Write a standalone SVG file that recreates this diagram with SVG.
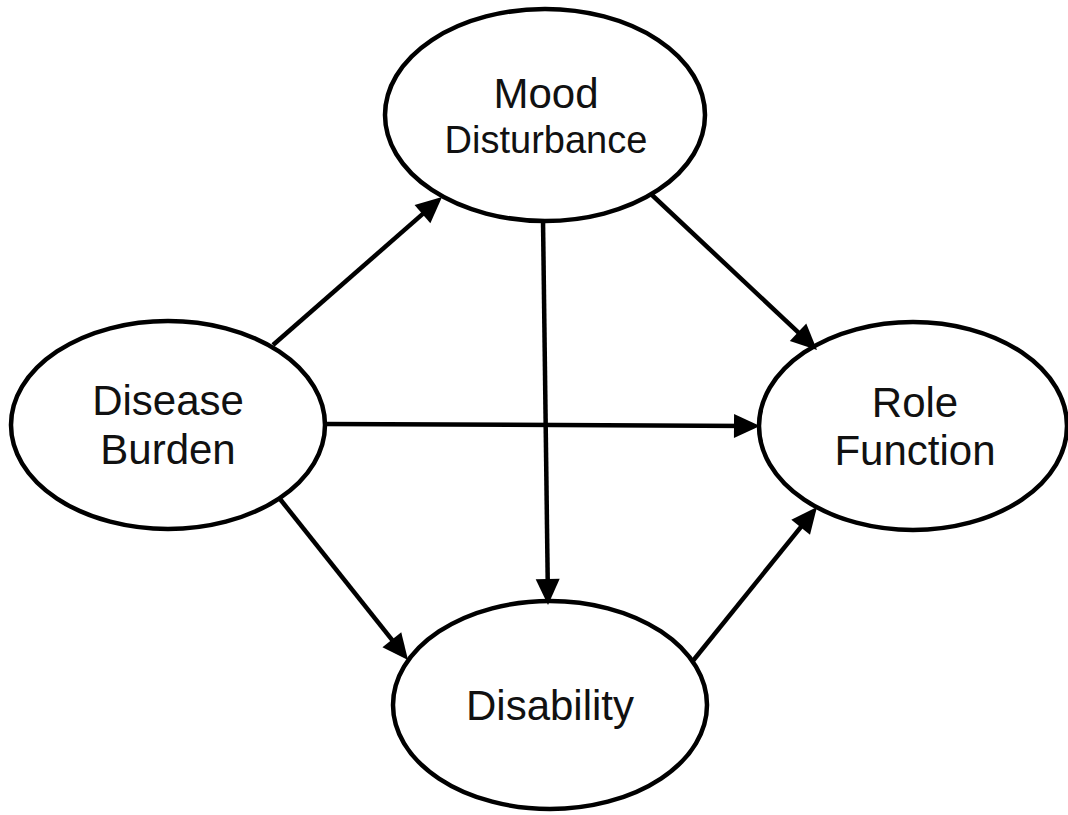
<svg xmlns="http://www.w3.org/2000/svg" width="1068" height="815" viewBox="0 0 1068 815">
<style>
.node{fill:#fff;stroke:#000;stroke-width:4.5}
.lbl{font-family:"Liberation Sans",Arial,sans-serif;font-size:42px;fill:#111;text-anchor:middle}
.edge{stroke:#000;stroke-width:4.5;fill:none;marker-end:url(#ah)}
</style>
<defs>
<marker id="ah" markerUnits="userSpaceOnUse" markerWidth="28" markerHeight="26" refX="16" refY="12" orient="auto" overflow="visible">
<path d="M0,0 L26,12 L0,24 z" fill="#000"/>
</marker>
</defs>
<rect width="1068" height="815" fill="#fff"/>
<g id="mood">
<ellipse class="node" cx="545" cy="115" rx="160" ry="106"/>
<text class="lbl" x="546" y="108">Mood</text>
<text class="lbl" x="546" y="153" style="font-size:38px">Disturbance</text>
</g>
<g id="disease">
<ellipse class="node" cx="168" cy="425" rx="157" ry="104"/>
<text class="lbl" x="168" y="415">Disease</text>
<text class="lbl" x="168" y="464">Burden</text>
</g>
<g id="role">
<ellipse class="node" cx="913" cy="426" rx="154" ry="104"/>
<text class="lbl" x="915" y="417">Role</text>
<text class="lbl" x="915" y="465">Function</text>
</g>
<g id="disability">
<ellipse class="node" cx="550" cy="705" rx="157" ry="104"/>
<text class="lbl" x="550" y="720">Disability</text>
</g>
<g id="connectors">
<line class="edge" x1="273" y1="345" x2="434.5" y2="203.6"/>
<line class="edge" x1="652" y1="195" x2="809.7" y2="343.2"/>
<line class="edge" x1="543" y1="220" x2="547.9" y2="595"/>
<line class="edge" x1="325" y1="424" x2="750" y2="426"/>
<line class="edge" x1="280" y1="499" x2="401.8" y2="652.2"/>
<line class="edge" x1="692" y1="662" x2="810.7" y2="514.8"/>
</g>
</svg>
